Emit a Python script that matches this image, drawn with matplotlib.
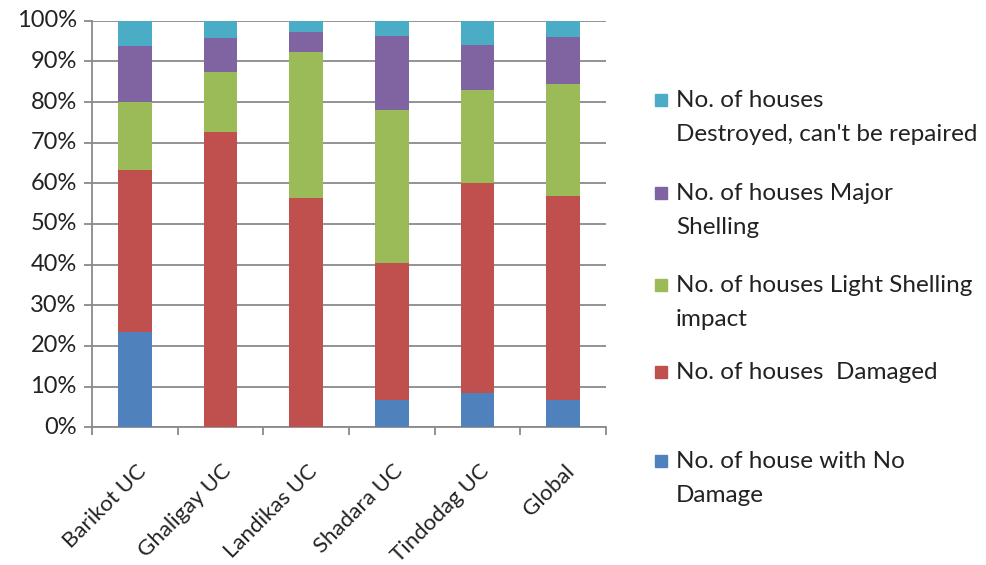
import matplotlib
matplotlib.use("Agg")
import matplotlib.pyplot as plt
from matplotlib.patches import Rectangle
from matplotlib.transforms import ScaledTranslation
import numpy as np

categories = ["Barikot UC", "Ghaligay UC", "Landikas UC", "Shadara UC", "Tindodag UC", "Global"]

# Shares (%) of houses per damage class, stacked bottom to top
no_damage = [23.4, 0.0, 0.0, 6.7, 8.4, 6.7]
damaged = [39.8, 72.6, 56.3, 33.8, 51.6, 50.2]
light_shelling = [16.7, 14.8, 36.0, 37.5, 23.0, 27.5]
major_shelling = [13.9, 8.4, 4.9, 18.2, 10.9, 11.5]
destroyed = [6.2, 4.2, 2.8, 3.8, 6.1, 4.1]

series_names = [
    "No. of house with No\nDamage",
    "No. of houses  Damaged",
    "No. of houses Light Shelling\nimpact",
    "No. of houses Major\nShelling",
    "No. of houses\nDestroyed, can't be repaired",
]
series_values = [no_damage, damaged, light_shelling, major_shelling, destroyed]
colors = ["#4F81BD", "#C0504D", "#9BBB59", "#8064A2", "#4BACC6"]

plt.rcParams["font.family"] = ["Lato", "DejaVu Sans"]
TXT = "#222222"
GRID = "#8a8a8a"

fig = plt.figure(figsize=(9.87, 5.65), dpi=100)
ax = fig.add_axes([0.0932, 0.2437, 0.5208, 0.7197])

x = np.arange(len(categories))
bottom = np.zeros(len(categories))
for vals, col in zip(series_values, colors):
    v = np.array(vals)
    ax.bar(x, v, bottom=bottom, width=0.39, color=col, zorder=3)
    bottom += v

ax.set_xlim(-0.5, len(categories) - 0.5)
ax.set_ylim(0, 100)
ax.set_yticks(np.arange(0, 101, 10))
ax.set_yticklabels([f"{t}%" for t in range(0, 101, 10)], fontsize=17, color=TXT)
shift_down = ScaledTranslation(0, -3 / 72, fig.dpi_scale_trans)
for lbl in ax.get_yticklabels():
    lbl.set_va("center")
    lbl.set_transform(lbl.get_transform() + shift_down)
ax.yaxis.grid(True, color=GRID, linewidth=1.3, zorder=0)
ax.set_axisbelow(True)

for s in ["top", "right"]:
    ax.spines[s].set_visible(False)
for s in ["left", "bottom"]:
    ax.spines[s].set_color(GRID)
    ax.spines[s].set_linewidth(1.3)
ax.tick_params(axis="y", length=6, color=GRID, width=1.3, pad=5)

# Category ticks sit on the boundaries between bars
ax.set_xticks(np.arange(-0.5, len(categories), 1.0))
ax.set_xticklabels([])
ax.tick_params(axis="x", length=6, color=GRID, width=1.3)
for xi, name in zip(x, categories):
    ax.text(xi + 0.01, -8.3, name, rotation=45, ha="right", va="top",
            rotation_mode="anchor", fontsize=16, color=TXT,
            transform=ax.transData, clip_on=False)

# Legend on the right, top entry first
legend_x = 655 / 987
text_x = 676 / 987
first_line_y = [461, 372, 285, 193, 100]
msize = 12
for name, col, yy in zip(series_names, colors, first_line_y):
    fy = 1 - yy / 565
    fig.patches.append(Rectangle((legend_x, fy - (msize / 2) / 565), msize / 987, msize / 565,
                                 transform=fig.transFigure, color=col))
    fig.text(text_x, 1 - (yy - 10) / 565, name, ha="left", va="top", fontsize=17.5,
             color=TXT, linespacing=1.75)

fig.savefig("out.png", dpi=100, facecolor="white")
